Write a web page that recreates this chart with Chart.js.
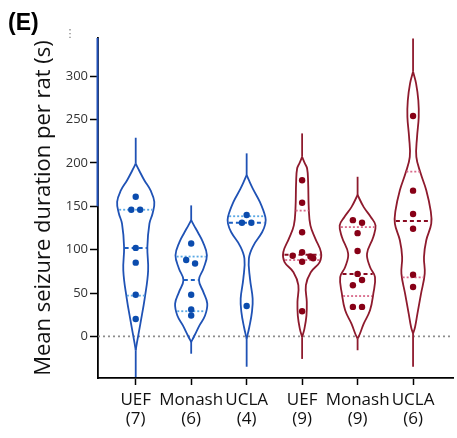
<!DOCTYPE html>
<html><head><meta charset="utf-8">
<script src="https://cdn.jsdelivr.net/npm/chart.js@4.4.1/dist/chart.umd.min.js"></script>
<style>html,body{margin:0;padding:0;background:#fff;}</style>
</head><body>
<canvas id="c" width="457" height="438"></canvas>
<script>
// ---- axis settings ----
const xMin = -0.68, xMax = 5.72;
const yMin = -48, yMax = 344;
const yTicks = [0, 50, 100, 150, 200, 250, 300];
const categories = ["UEF", "Monash", "UCLA", "UEF", "Monash", "UCLA"];
const counts = ["(7)", "(6)", "(4)", "(9)", "(9)", "(6)"];
const groupColors = ["blue", "blue", "blue", "red", "red", "red"];

// ---- individual rats (mean seizure duration, s) ----
const uefBlue = [161, 146, 146, 102, 85, 48, 20];
const monashBlue = [107, 88, 84, 48, 31, 24];
const uclaBlue = [140, 131, 131, 35];
const uefRed = [180, 154, 120, 97, 93, 92, 90, 86, 29];
const monashRed = [134, 131, 119, 98.5, 72, 65, 59, 34, 34];
const uclaRed = [254, 168, 141, 124, 71, 57];

// horizontal spread of overlapping dots (category units)
const uefBlueJit = [0, -0.08, 0.08, 0, 0, 0, 0];
const monashBlueJit = [0, -0.09, 0.07, 0, 0, 0];
const uclaBlueJit = [0, -0.085, 0.085, 0];
const uefRedJit = [0, 0, 0, 0, -0.17, 0.15, 0.2, 0, 0];
const monashRedJit = [-0.085, 0.08, 0, 0, 0, 0.08, -0.085, -0.085, 0.08];
const uclaRedJit = [0, 0, 0, 0, 0, 0];

// ---- violin extents [min, max] ----
const uefBlueRange = [-47, 229];
const monashBlueRange = [-20, 151];
const uclaBlueRange = [-35, 211];
const uefRedRange = [-26, 234];
const monashRedRange = [-16, 184];
const uclaRedRange = [-35, 343.5];

// ---- violin outlines [value, half width] ----
const uefBlueShape = [[-16,0],[-8,0.02],[15,0.085],[45,0.165],[76,0.224],[103,0.21],[130,0.247],[142,0.305],[155,0.335],[168,0.27],[180,0.155],[191.5,0.06],[199,0]];
const monashBlueShape = [[-6.5,0],[1,0.06],[12.7,0.15],[24,0.25],[37.7,0.29],[51,0.22],[65,0.14],[78,0.22],[93.5,0.283],[109,0.21],[120,0.12],[128,0.05],[134,0]];
const uclaBlueShape = [[-2.7,0],[10.8,0.048],[28,0.095],[43.5,0.108],[66.5,0.06],[89.6,0.04],[105,0.125],[120,0.278],[130,0.337],[137.7,0.337],[155,0.238],[170,0.113],[180,0.04],[186,0]];
const uefRedShape = [[-1,0],[9,0.042],[24,0.078],[39.6,0.084],[59,0.068],[74,0.156],[85.7,0.317],[97,0.34],[112.7,0.238],[128,0.149],[147,0.12],[178,0.108],[193.5,0.09],[200,0.045],[207,0]];
const monashRedShape = [[-2.7,0],[3,0.042],[14.6,0.111],[30,0.224],[49,0.283],[68.4,0.314],[80,0.224],[95.4,0.17],[114.6,0.283],[128,0.323],[137.7,0.238],[149,0.111],[163,0]];
const uclaRedShape = [[3,0],[10.8,0.036],[26,0.078],[49,0.143],[72.3,0.21],[91.5,0.197],[110.8,0.238],[130,0.328],[145,0.317],[168.5,0.238],[187.7,0.138],[207,0.059],[230,0.072],[253,0.102],[272,0.095],[291.6,0.054],[305,0]];

// ---- medians and quartiles ----
const medians = [102, 65, 131, 94, 72, 133];
const q1 = [47, 29, null, 88, 46.5, 68];
const q3 = [146, 92, 138.5, 145, 126, 190];

const groups = [
  {pts: uefBlue, jit: uefBlueJit, shape: uefBlueShape, range: uefBlueRange},
  {pts: monashBlue, jit: monashBlueJit, shape: monashBlueShape, range: monashBlueRange},
  {pts: uclaBlue, jit: uclaBlueJit, shape: uclaBlueShape, range: uclaBlueRange},
  {pts: uefRed, jit: uefRedJit, shape: uefRedShape, range: uefRedRange},
  {pts: monashRed, jit: monashRedJit, shape: monashRedShape, range: monashRedRange},
  {pts: uclaRed, jit: uclaRedJit, shape: uclaRedShape, range: uclaRedRange}
];

const palette = {
  blue: {line: '#1f52b5', pt: '#0b4cae', med: '#1b5fc2', q: '#5aa8e4'},
  red: {line: '#8e1a2d', pt: '#870016', med: '#8a0b21', q: '#d8698a'}
};

function halfWidthAt(shape, v) {
  for (let k = 0; k < shape.length - 1; k++) {
    const [a, wa] = shape[k], [b, wb] = shape[k + 1];
    if (v >= a && v <= b) return wa + (wb - wa) * (v - a) / (b - a);
  }
  return 0;
}

const datasets = [];
// zero reference line
datasets.push({data: [{x: xMin, y: 0}, {x: xMax, y: 0}], showLine: true, borderColor: '#8c8c8c',
  borderWidth: 1.8, borderDash: [2, 3], pointRadius: 0, order: 5});

groups.forEach((g, i) => {
  const s = palette[groupColors[i]];
  const lo = g.shape[0][0], hi = g.shape[g.shape.length - 1][0];
  [[g.range[0], lo], [hi, g.range[1]]].forEach(([a, b]) =>
    datasets.push({data: [{x: i, y: a}, {x: i, y: b}], showLine: true,
      borderColor: s.line, borderWidth: 1.8, pointRadius: 0, tension: 0, order: 3}));
  const right = g.shape.map(([v, w]) => ({x: i + w, y: v}));
  const left = g.shape.map(([v, w]) => ({x: i - w, y: v}));
  [right, left].forEach(d => datasets.push({data: d, showLine: true, borderColor: s.line,
    borderWidth: 1.8, pointRadius: 0, tension: 0.4, order: 3}));
  const addLine = (v, color, dash, width) => {
    if (v === null) return;
    const w = halfWidthAt(g.shape, v) * 0.95;
    datasets.push({data: [{x: i - w, y: v}, {x: i + w, y: v}], showLine: true, borderColor: color,
      borderWidth: width, borderDash: dash, pointRadius: 0, order: 2});
  };
  addLine(q1[i], s.q, [2, 2], 1.8);
  addLine(q3[i], s.q, [2, 2], 1.8);
  addLine(medians[i], s.med, [4, 3], 2);
  datasets.push({data: g.pts.map((v, k) => ({x: i + g.jit[k], y: v})), showLine: false,
    pointRadius: 3.2, pointBackgroundColor: s.pt, pointBorderWidth: 0, order: 0});
});

const extras = {
  id: 'extras',
  afterDraw(chart) {
    const c = chart.ctx, y = chart.scales.y, a = chart.chartArea;
    c.save();
    c.strokeStyle = '#1f4fb8';
    c.lineWidth = 2;
    c.beginPath();
    c.moveTo(a.left - 0.5, a.top);
    c.lineTo(a.left - 0.5, y.getPixelForValue(150));
    c.stroke();
    c.fillStyle = '#000';
    c.font = 'bold 23px "Liberation Sans", Arial, sans-serif';
    c.textBaseline = 'alphabetic';
    c.textAlign = 'left';
    c.fillText('(E)', 8, 30);
    c.fillStyle = '#777';
    c.font = '11px "DejaVu Sans", sans-serif';
    c.textAlign = 'center';
    c.fillText('\u22EE', 70, 37);
    c.restore();
  }
};

new Chart(document.getElementById('c'), {
  type: 'scatter',
  data: {datasets},
  plugins: [extras],
  options: {
    responsive: false,
    animation: false,
    events: [],
    layout: {padding: {top: 38, right: 2, left: 0, bottom: 0}},
    plugins: {legend: {display: false}, tooltip: {enabled: false}},
    scales: {
      x: {
        type: 'linear', min: xMin, max: xMax,
        afterBuildTicks: s => { s.ticks = categories.map((c, k) => ({value: k})); },
        afterFit: s => { s.height = 60; },
        ticks: {
          autoSkip: false, maxRotation: 0, padding: 6, color: '#111',
          font: {family: '"Open Sans"', size: 17, lineHeight: 1.1},
          callback: v => [categories[v], counts[v]]
        },
        grid: {drawOnChartArea: false, tickLength: 7, tickColor: '#000', tickWidth: 1.5},
        border: {color: '#000', width: 1.8}
      },
      y: {
        type: 'linear', min: yMin, max: yMax,
        afterBuildTicks: s => { s.ticks = yTicks.map(v => ({value: v})); },
        afterFit: s => { s.width = 98; },
        ticks: {color: '#333', padding: 2, font: {family: '"Open Sans"', size: 13}},
        grid: {drawOnChartArea: false, tickLength: 8, tickColor: '#000', tickWidth: 1.5},
        border: {color: '#000', width: 1.8},
        title: {display: true, text: 'Mean seizure duration per rat (s)', color: '#111',
          font: {family: '"Open Sans"', size: 22, lineHeight: 1.2}, padding: {top: 31, bottom: 0}}
      }
    }
  }
});
</script>
</body></html>
